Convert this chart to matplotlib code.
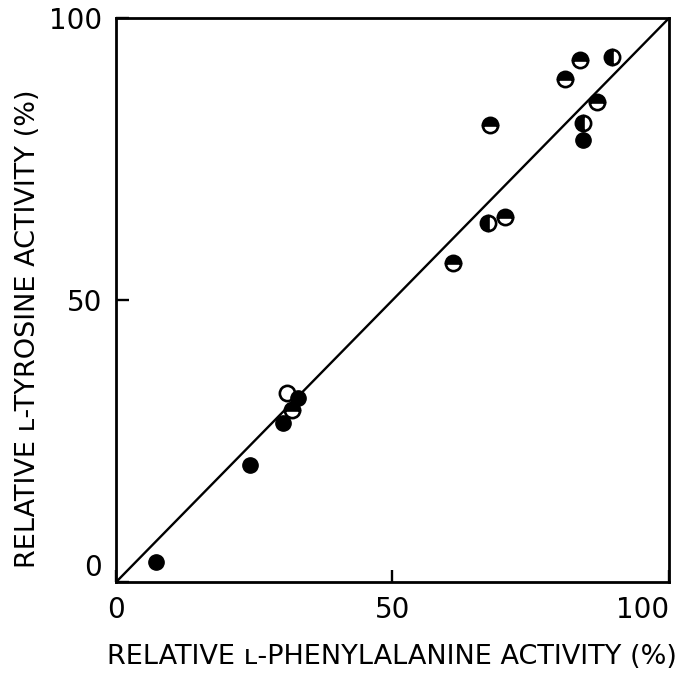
import matplotlib.pyplot as plt

# relative activities (%)
filled_x = [7.2, 24.2, 30.2, 32.9, 84.4]
filled_y = [3.5, 20.7, 28.2, 32.6, 78.4]

open_x = [30.9]
open_y = [33.5]

top_half_x = [31.8, 60.9, 70.3, 67.6, 81.2, 83.9, 87.0]
top_half_y = [30.5, 56.6, 64.7, 81.0, 89.2, 92.6, 85.1]

left_half_x = [67.3, 89.7, 84.4]
left_half_y = [63.7, 93.1, 81.4]

ticks = [0, 50, 100]

fig = plt.figure(figsize=(6.86, 6.77), dpi=100)
ax = fig.add_axes([0.169, 0.140, 0.806, 0.833])

ax.plot([0, 100], [0, 100], color='black', linewidth=1.7, zorder=1)

ms = 11
mew = 1.9
ax.plot(open_x, open_y, 'o', markersize=ms, markerfacecolor='white',
        markeredgecolor='black', markeredgewidth=mew, zorder=2)
ax.plot(top_half_x, top_half_y, 'o', markersize=ms, fillstyle='top',
        markerfacecolor='black', markerfacecoloralt='white',
        markeredgecolor='black', markeredgewidth=mew, zorder=3)
ax.plot(left_half_x, left_half_y, 'o', markersize=ms, fillstyle='left',
        markerfacecolor='black', markerfacecoloralt='white',
        markeredgecolor='black', markeredgewidth=mew, zorder=3)
ax.plot(filled_x, filled_y, 'o', markersize=ms, color='black', zorder=4)

ax.set_xlim(0, 100)
ax.set_ylim(0, 100)
ax.set_xticks(ticks)
ax.set_yticks(ticks)
ax.set_xticklabels([str(t) for t in ticks], fontsize=20)
ax.set_yticklabels([str(t) for t in ticks], fontsize=20)
ax.tick_params(direction='in', length=9, width=1.7, pad=10)
ax.get_xticklabels()[-1].set_horizontalalignment('right')
ax.get_yticklabels()[0].set_verticalalignment('bottom')

for s in ax.spines.values():
    s.set_linewidth(2)

ax.set_xlabel('RELATIVE \u029f-PHENYLALANINE ACTIVITY (%)', fontsize=19.5, labelpad=14)
ax.set_ylabel('RELATIVE \u029f-TYROSINE ACTIVITY (%)', fontsize=19.5)
ax.yaxis.set_label_coords(-0.135, 0.45)

fig.savefig('out.png', dpi=100)
